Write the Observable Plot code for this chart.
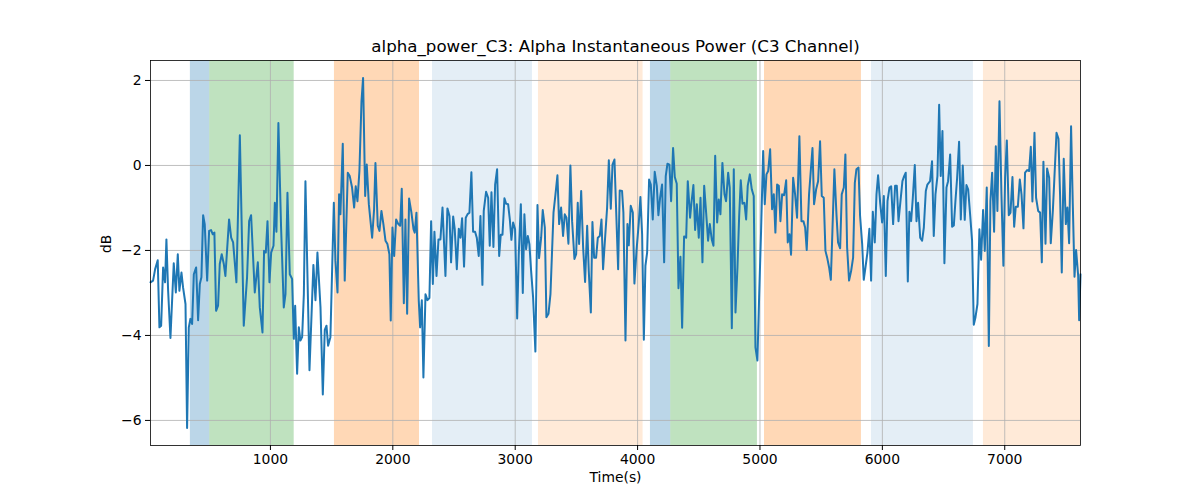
<!DOCTYPE html>
<html>
<head>
<meta charset="utf-8">
<script src="https://cdn.jsdelivr.net/npm/d3@7"></script>
<script src="https://cdn.jsdelivr.net/npm/@observablehq/plot@0.6"></script>
<style>
  html, body { margin: 0; padding: 0; background: white; }
  #chart { width: 1200px; height: 500px; }
</style>
</head>
<body>
<div id="chart"></div>
<script>
const titleText = "alpha_power_C3: Alpha Instantaneous Power (C3 Channel)";
const xLabel = "Time(s)";
const yLabel = "dB";
const xTicks = [1000, 2000, 3000, 4000, 5000, 6000, 7000];
const yTicks = [-6, -4, -2, 0, 2];

const times = [
  20,41,58,79,93,107,123,139,150,164,183,210,227,243,256,273,286,306,319,333,346,360,374,393,409,423,436,450,463,483,499,515,529,542,556,572,586,602,619,632,662,679,695,722,750,782,809,826,842,872,897,913,935,948,962,976,992,1006,1025,1036,1049,1065,1087,1109,1123,1139,1158,1177,1191,1202,1218,1232,1245,1259,1273,
  1286,1319,1351,1368,1384,1409,1428,1444,1458,1471,1490,1518,1531,1548,1561,1572,1591,1607,1632,1648,1667,1684,1697,1711,1727,1744,1757,1774,1787,1804,1831,1847,1858,1877,1891,1907,1923,1940,1956,1972,1983,1997,2011,2027,2043,2060,2073,2090,2103,2117,2133,2152,2169,2179,2193,2212,2223,2237,2250,2267,2283,2299,2313,2327,2340,2357,2373,2389,2406,2430,2446,2463,2476,2493,2506,2523,2539,
  2553,2566,2582,2596,2610,2626,2642,2656,2672,2686,2702,2716,2732,2743,2762,2779,2792,2806,2822,2836,2852,2869,2882,2896,2912,2926,2942,2956,2969,2983,2999,3016,3029,3046,3062,3075,3089,3103,3116,3130,3146,3165,3182,3195,3212,3225,3242,3255,3272,3288,3313,3329,3345,3359,3375,3391,3405,3419,3435,3451,3465,3484,3498,3511,3522,3539,3555,3571,3588,3601,3618,3631,3645,3661,3675,3691,3705,3718,3732,3751,3765,3781,3795,3811,
  3841,3854,3873,3884,3901,3917,3928,3944,3961,3974,3991,4010,4023,4037,4051,4064,4078,4094,4108,4124,4140,4157,4170,4184,4200,4217,4230,4244,4260,4274,4290,4304,4320,4334,4350,4364,4380,4397,4410,4429,4440,4456,4470,4484,4500,4514,4530,4544,4560,4576,4590,4606,4620,4634,4650,4663,4677,4693,4710,4723,4740,4753,4770,4786,4800,4816,4830,4843,4857,4873,4887,4900,4917,4933,4949,4963,4979,4993,5009,5026,5039,5053,5067,5083,
  5099,5113,5126,5140,5154,5167,5181,5197,5214,5227,5241,5254,5271,5287,5303,5322,5339,5355,5369,5382,5401,5415,5429,5442,5459,5475,5491,5505,5521,5535,5549,5565,5579,5592,5608,5625,5638,5655,5668,5685,5698,5712,5728,5745,5761,5775,5788,5805,5818,5835,5848,5862,5878,5894,5908,5922,5938,5952,5965,5982,5998,6012,6028,6042,6058,6072,6088,6104,6118,6132,6148,6164,6178,6191,6208,6221,6235,6249,6265,6279,6292,6309,6325,6339,
  6355,6368,6390,6406,6420,6434,6450,6464,6477,6491,6507,6524,6537,6554,6570,6584,6597,6611,6627,6641,6657,6673,6687,6701,6717,6733,6747,6761,6777,6793,6807,6823,6837,6853,6870,6883,6897,6913,6927,6940,6957,6973,6989,7003,7017,7033,7047,7063,7077,7090,7107,7123,7137,7153,7166,7183,7199,7213,7226,7243,7256,7273,7289,7303,7316,7333,7346,7363,7376,7393,7406,7423,7439,7452,7466,7482,7499,7512,7526,7542,7556,7570,7583,7600,7608,7619
];

const powerDb = [
  -2.75,-2.71,-2.44,-2.23,-3.81,-3.77,-2.40,-2.75,-1.74,-2.95,-4.06,-2.30,-2.99,-2.09,-2.95,-2.52,-2.87,-3.26,-6.18,-3.81,-3.61,-3.73,-2.56,-2.40,-3.64,-2.79,-2.63,-1.17,-1.38,-2.71,-1.54,-1.52,-1.62,-1.58,-3.42,-3.30,-2.32,-2.09,-2.32,-2.60,-1.27,-1.70,-1.81,-2.75,0.71,-3.77,-2.63,-1.31,-1.17,-2.99,-2.28,-3.34,-3.93,-2.01,-2.05,-1.31,-2.75,-2.05,-1.89,-0.88,-1.56,1.00,-1.46,-3.34,-3.03,-0.64,-2.56,-2.67,-4.08,-3.30,-4.90,-3.81,-4.12,-4.04,-3.03,
  -0.37,-4.82,-2.34,-3.17,-2.05,-3.34,-5.39,-3.87,-3.77,-4.24,-4.04,-0.88,-2.24,-2.99,-0.68,-1.15,0.51,-2.71,-0.17,-0.25,-0.52,-0.99,-0.49,-0.84,-0.13,1.51,2.06,-0.72,0.02,-0.91,-1.70,-1.03,0.06,-1.42,-1.54,-1.07,-1.38,-1.77,-1.85,-2.09,-3.65,-1.46,-2.13,-1.27,-1.37,-1.42,-0.55,-3.24,-1.27,-3.49,-0.78,-1.11,-1.50,-1.58,-1.11,-3.18,-3.81,-3.17,-4.99,-3.03,-3.17,-3.12,-1.31,-2.79,-1.56,-2.60,-1.74,-1.74,-0.99,-2.60,-1.01,-1.19,-2.28,-1.20,-1.50,-2.44,-1.49,
  -1.70,-1.24,-2.38,-1.23,-1.15,-1.11,-0.16,-1.56,-1.56,-1.70,-2.13,-1.19,-2.81,-1.07,-0.62,-0.76,-1.89,-0.63,-1.92,-0.45,-0.09,-2.13,-1.63,-1.63,-0.77,-0.90,-0.91,-1.27,-1.75,-1.34,-1.50,-3.60,-2.09,-0.91,-3.00,-1.15,-1.97,-1.66,-1.85,-2.48,-3.10,-4.38,-0.93,-2.18,-1.70,-1.05,-1.46,-3.57,-3.49,-3.03,-1.11,-0.68,-0.23,-1.38,-0.99,-1.66,-1.15,-1.23,-1.84,0.00,-1.31,-2.20,-2.09,-0.88,-1.85,-0.60,-1.93,-2.74,-1.42,-2.48,-3.46,-1.33,-2.17,-2.17,-1.70,-1.66,-1.27,-2.44,-1.81,-0.99,0.12,-1.02,0.02,0.14,
  -2.44,-0.59,-0.60,-1.11,-4.12,-1.38,-1.88,-0.95,-1.11,-2.78,-2.01,-1.34,-0.74,-1.62,-4.10,-2.36,-2.05,-0.33,-0.45,-1.27,-0.15,-0.48,-1.17,-0.76,-0.45,-2.28,-0.25,0.04,0.02,-0.84,0.41,-0.27,-0.43,-2.89,-2.15,-3.82,-1.67,-1.70,-0.37,-1.23,-0.88,-0.46,-1.52,-0.91,-1.70,-0.76,-2.28,-0.48,-1.11,-1.77,-1.38,-1.74,-1.89,0.23,-1.34,-0.80,-1.15,0.06,-0.68,-0.84,-0.17,-0.52,-3.83,-0.09,-3.46,-2.40,-1.19,-0.35,-0.90,-0.88,-1.27,-0.48,-0.21,-0.56,-0.72,-4.28,-4.59,-3.10,-1.54,0.34,-0.91,-0.21,-0.13,0.38,
  -1.03,-0.68,-1.58,-0.45,-0.48,-1.31,-0.68,-0.70,-0.35,-1.81,-1.62,-2.10,-0.29,-0.68,-1.23,0.69,-1.31,-1.31,-1.46,-1.99,-0.68,-0.13,0.41,-0.91,-0.56,-0.37,0.57,-0.72,-0.76,-2.01,-2.17,-2.40,-2.69,-1.54,-0.09,-1.15,-1.81,-1.95,-0.68,-0.52,0.26,-1.93,-2.71,-2.48,-2.17,-0.41,-0.09,-0.05,-1.19,-1.85,-2.69,-2.40,-2.05,-1.49,-2.71,-1.09,-1.81,-0.68,-0.23,-0.88,-1.34,-0.72,-2.60,-0.84,-0.52,-0.49,-1.38,-0.48,-0.48,-1.31,-0.84,-0.37,-0.25,-0.17,-2.73,-1.09,-1.31,-0.76,0.01,-1.31,-0.88,-1.70,-1.77,-1.46,
  -0.60,-0.45,-0.37,0.10,-1.66,-0.68,-0.25,1.43,-0.25,0.81,-2.30,-0.52,-0.37,0.26,-1.44,-1.41,-0.84,-0.29,0.56,-1.27,0.00,-1.28,-0.46,-0.56,-1.15,-1.77,-3.75,-3.57,-3.26,-1.50,-2.22,-1.05,-2.01,-0.52,-4.25,-0.84,-0.17,-1.56,0.45,-1.07,1.51,-0.68,-2.36,-0.29,0.59,-1.17,-1.11,-0.27,-1.44,-0.97,-0.97,-0.33,-0.68,-1.48,-0.17,-0.11,-0.13,0.44,-0.85,0.77,-0.76,-1.07,-1.11,-2.28,0.09,-1.84,-0.07,-0.29,-1.83,-1.07,-0.27,0.77,0.63,-0.68,-2.52,0.16,-1.38,-0.99,-1.83,0.92,-0.91,-2.62,-1.99,-2.60,-3.64,-2.56
];

// shaded epochs
const bandStart = [346, 504, 1523, 2324, 3190, 4105, 4271, 5037, 5911, 6826];
const bandEnd   = [504, 1194, 2218, 3141, 4045, 4271, 4979, 5829, 6744, 7619];
const bandKind  = ["A", "B", "C", "D", "E", "A", "B", "C", "D", "E"];

const kindFill = {A: "#1f77b4", B: "#2ca02c", C: "#ff7f0e", D: "#1f77b4", E: "#ff7f0e"};
const kindOpacity = {A: 0.3, B: 0.3, C: 0.3, D: 0.12, E: 0.16};

const series = times.map((t, i) => ({t, v: powerDb[i]}));
const bands = bandStart.map((s, i) => ({s, e: bandEnd[i], k: bandKind[i]}));

const minus = d => (d < 0 ? "\u2212" + Math.abs(d) : String(d));

const chart = Plot.plot({
  width: 1200,
  height: 500,
  marginLeft: 150,
  marginRight: 120,
  marginTop: 60,
  marginBottom: 55,
  style: {fontFamily: "DejaVu Sans", fontSize: "13.9px", color: "black", background: "white"},
  x: {domain: [times[0], times[times.length - 1]]},
  y: {domain: [-6.59, 2.47]},
  marks: [
    Plot.rect(bands, {x1: "s", x2: "e", fill: d => kindFill[d.k], fillOpacity: d => kindOpacity[d.k]}),
    Plot.gridX(xTicks, {stroke: "#b0b0b0", strokeOpacity: 1, strokeWidth: 0.8}),
    Plot.gridY(yTicks, {stroke: "#b0b0b0", strokeOpacity: 1, strokeWidth: 0.8}),
    Plot.line(series, {x: "t", y: "v", stroke: "#1f77b4", strokeWidth: 2}),
    Plot.frame({stroke: "black", strokeWidth: 0.8}),
    Plot.axisX({ticks: xTicks, tickFormat: d3.format("d"), tickSize: 5, tickPadding: 4, label: null}),
    Plot.axisY({ticks: yTicks, tickFormat: minus, tickSize: 5, tickPadding: 4, label: null}),
    Plot.text([titleText], {frameAnchor: "top", dy: -20, fontSize: 16.67, fill: "black"}),
    Plot.text([xLabel], {frameAnchor: "bottom", dy: 36, fontSize: 13.9, fill: "black"}),
    Plot.text([yLabel], {frameAnchor: "left", dx: -44, rotate: -90, fontSize: 13.9, fill: "black"})
  ]
});
document.getElementById("chart").appendChild(chart);
</script>
</body>
</html>
